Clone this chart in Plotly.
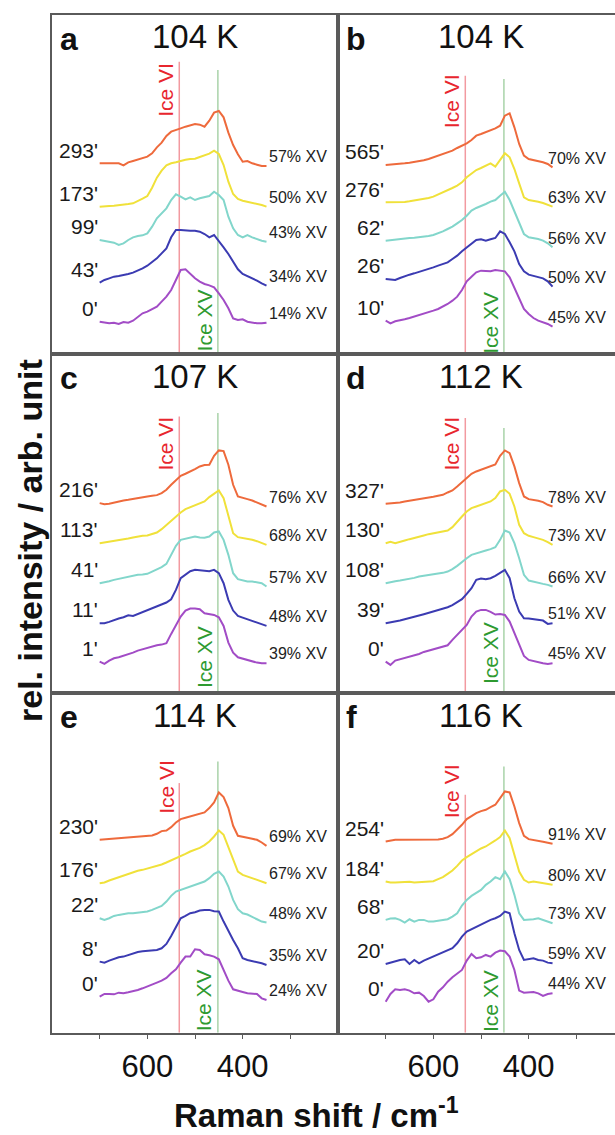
import plotly.graph_objects as go

# ---------------- data ----------------
RAMAN_SHIFT = list(range(700, 340, -10))  # cm-1, 700 ... 350
ICE_VI_SHIFT = 533
ICE_XV_SHIFT = 452
MAJOR_TICKS = [600, 400]
MINOR_TICKS = [700, 500, 300]

PANEL_LETTERS = ["a", "b", "c", "d", "e", "f"]
PANEL_TEMPS = ["104 K", "104 K", "107 K", "112 K", "114 K", "116 K"]

TIMES = [
    ["293'", "173'", "99'", "43'", "0'"],
    ["565'", "276'", "62'", "26'", "10'"],
    ["216'", "113'", "41'", "11'", "1'"],
    ["327'", "130'", "108'", "39'", "0'"],
    ["230'", "176'", "22'", "8'", "0'"],
    ["254'", "184'", "68'", "20'", "0'"],
]
XV_FRACTIONS = [
    ["57% XV", "50% XV", "43% XV", "34% XV", "14% XV"],
    ["70% XV", "63% XV", "56% XV", "50% XV", "45% XV"],
    ["76% XV", "68% XV", "57% XV", "48% XV", "39% XV"],
    ["78% XV", "73% XV", "66% XV", "51% XV", "45% XV"],
    ["69% XV", "67% XV", "48% XV", "35% XV", "24% XV"],
    ["91% XV", "80% XV", "73% XV", "59% XV", "44% XV"],
]

# stacked relative intensities (arb. unit), top spectrum first
SPEC_A = [
    [572,572,571,572,572,566,575,579,583,586,592,602,620,634,654,667,673,677,682,686,690,688,682,700,724,729,710,664,627,599,577,579,572,568,564,564],
    [442,442,444,445,446,448,450,452,458,466,474,499,529,550,566,572,575,580,583,585,586,591,596,601,610,600,567,517,480,465,460,457,454,451,447,442],
    [342,340,337,334,327,332,342,350,354,356,362,382,407,422,437,462,479,472,464,470,462,467,470,474,487,477,462,412,377,357,350,357,350,344,340,337],
    [214,222,227,232,234,236,240,244,250,257,265,277,287,302,317,350,372,372,370,370,370,367,360,350,357,340,320,300,277,254,240,234,226,220,212,205],
    [97,94,92,94,90,96,94,100,112,122,127,134,142,157,172,192,222,252,254,240,227,217,210,206,200,182,162,137,107,102,104,97,94,92,92,94],
]
SPEC_B = [
    [567,568,568,570,572,574,576,578,581,585,590,595,600,605,610,618,624,632,642,655,660,665,672,677,685,715,722,680,630,595,585,582,578,575,570,560],
    [455,455,456,456,456,458,460,463,465,468,472,478,485,492,498,505,515,530,542,552,558,565,572,562,582,602,590,555,512,470,462,460,457,453,448,442],
    [340,342,343,345,347,348,349,350,352,354,357,362,368,375,382,392,402,415,430,438,443,450,457,462,475,487,462,428,390,360,350,348,345,340,332,320],
    [225,224,222,228,234,238,242,246,250,254,260,265,270,275,285,295,308,320,332,342,344,340,344,348,368,360,335,308,270,248,238,235,232,227,218,202],
    [100,92,98,100,104,108,112,116,120,125,130,135,142,150,160,172,192,218,232,245,250,250,248,252,250,248,230,200,165,135,120,108,100,95,90,82],
]
SPEC_C = [
    [570,567,568,572,575,578,580,583,586,588,590,592,594,600,610,625,640,652,658,664,672,680,684,685,712,728,726,685,625,590,585,582,578,572,566,560],
    [450,452,455,458,460,462,464,467,470,472,473,477,482,492,505,518,530,542,552,558,565,570,575,588,598,608,585,530,480,468,466,463,460,456,450,445],
    [330,332,336,340,343,348,350,353,355,356,358,365,372,378,388,415,442,460,463,467,470,467,466,470,482,485,460,415,360,342,338,335,335,333,330,320],
    [210,210,214,220,224,228,234,232,238,244,250,256,262,268,272,282,310,345,355,366,370,369,367,366,370,360,330,280,248,232,227,222,218,212,208,202],
    [95,88,98,105,108,112,117,122,128,132,137,142,144,146,150,178,205,230,248,254,254,252,240,238,235,228,202,152,122,108,104,100,95,92,90,90],
]
SPEC_D = [
    [568,569,570,572,575,577,579,581,583,586,589,592,595,602,608,620,632,645,658,665,670,675,680,686,712,728,720,680,630,590,582,580,577,573,565,560],
    [450,454,450,455,458,462,465,470,473,477,480,483,486,488,498,515,530,545,555,560,565,570,575,585,605,610,598,560,505,480,472,468,465,460,453,445],
    [330,334,336,338,340,343,346,350,352,354,356,358,361,365,372,382,395,405,415,420,424,428,432,438,460,488,482,450,405,355,338,334,330,328,325,320],
    [210,212,215,218,222,225,229,233,237,241,245,249,254,258,264,272,282,298,315,340,344,342,345,352,362,370,345,285,245,225,224,222,220,218,208,210],
    [95,85,98,102,105,110,114,118,124,128,132,136,140,144,160,175,188,205,230,245,250,250,244,236,238,235,215,180,142,112,100,96,94,90,88,90],
]
SPEC_E = [
    [578,579,580,581,582,583,584,585,586,587,588,591,596,604,606,616,630,640,644,648,650,654,660,673,690,720,706,673,620,590,586,584,581,578,570,560],
    [448,450,456,461,466,470,475,480,485,488,492,495,500,504,510,516,523,530,536,543,548,554,562,573,588,606,593,558,518,483,473,468,463,458,451,448],
    [343,338,343,350,353,356,358,358,359,360,363,368,373,380,393,410,423,428,432,438,444,448,453,463,476,483,468,438,398,370,358,354,348,340,333,330],
    [213,210,216,221,226,228,233,238,242,244,246,248,248,253,266,290,318,343,350,358,361,366,368,368,364,363,333,303,278,253,223,218,215,213,208,203],
    [108,116,116,115,120,118,121,124,128,133,138,143,150,156,164,178,190,210,228,228,250,248,235,232,228,220,188,156,130,125,122,118,118,116,103,98],
]
SPEC_F = [
    [573,576,578,578,578,578,578,578,578,578,578,579,581,586,595,608,623,640,650,658,664,668,676,683,703,723,720,678,628,590,580,578,575,572,569,566],
    [453,450,450,451,453,452,450,451,451,453,454,460,466,476,486,500,516,526,535,543,552,558,566,576,586,606,583,533,483,458,450,453,450,448,446,443],
    [338,342,343,338,330,340,333,338,338,333,333,336,338,340,348,358,381,398,410,420,428,443,453,466,460,483,460,413,358,338,338,340,343,338,333,328],
    [206,210,216,218,220,206,218,208,216,222,228,233,240,246,253,268,288,303,310,318,323,330,338,343,350,363,358,298,248,218,220,223,218,216,210,208],
    [93,116,130,128,130,126,118,120,110,93,100,123,136,153,166,178,188,216,236,223,226,233,228,240,246,244,228,188,126,120,120,122,118,110,116,118],
]
SPECTRA = [SPEC_A, SPEC_B, SPEC_C, SPEC_D, SPEC_E, SPEC_F]

# ---------------- style / layout ----------------
W, H = 615, 1135
COLORS = ["#EE6A3C", "#F0E13A", "#82D6CB", "#3B3BB2", "#A24CC6"]
FONT = "Arial, Liberation Sans, sans-serif"
BORDER = "#5a5a5a"

COL_PX = [(52, 338), (338, 615)]
COL_RANGE = [[800, 200], [800, 219]]
ROW_PX = [(15, 354), (354, 693.3), (693.3, 1032.7)]
Y_TOP = 1017

# marker-line tops and label centres per panel (y units)
VI_TOP = [877, 835, 830, 825, 748, 713]
XV_TOP = [852, 825, 840, 795, 813, 798]
VI_LABEL_Y = [792, 758, 748, 748, 736, 723]
XV_LABEL_Y = [102, 95, 110, 122, 98, 96]
PCT_X = [350, 364]

fig = go.Figure()
layout = dict(
    width=W, height=H, margin=dict(l=0, r=0, t=0, b=0),
    paper_bgcolor="white", plot_bgcolor="white", showlegend=False,
    font=dict(family=FONT, color="#111"),
)
annotations = []
shapes = []

for i in range(6):
    row, col = divmod(i, 2)
    n = "" if i == 0 else str(i + 1)
    xa, ya = "x" + n, "y" + n
    x0, x1 = COL_PX[col]
    t0, t1 = ROW_PX[row]
    bottom = row == 2
    xaxis = dict(
        domain=[x0 / W, x1 / W], range=COL_RANGE[col], anchor=ya,
        showline=True, mirror=True, linecolor=BORDER, linewidth=1.5,
        showgrid=False, zeroline=False,
        showticklabels=bottom, ticks="",
    )
    if bottom:
        xaxis.update(
            ticks="outside", ticklen=5, tickwidth=1, tickcolor=BORDER,
            tickvals=MAJOR_TICKS, tickfont=dict(size=31, color="#111", family=FONT),
            minor=dict(tickvals=MINOR_TICKS, ticks="outside", ticklen=5, tickwidth=1,
                       tickcolor=BORDER, showgrid=False),
        )
    layout["xaxis" + n] = xaxis
    layout["yaxis" + n] = dict(
        domain=[1 - t1 / H, 1 - t0 / H], range=[0, Y_TOP], anchor=xa,
        showline=True, mirror=(col == 0), linecolor=BORDER, linewidth=1.5,
        showgrid=False, zeroline=False, showticklabels=False, ticks="",
    )
    # marker lines
    shapes.append(dict(type="line", xref=xa, yref=ya, x0=ICE_VI_SHIFT, x1=ICE_VI_SHIFT,
                       y0=0, y1=VI_TOP[i], line=dict(color="#F29AA0", width=1.5), layer="below"))
    shapes.append(dict(type="line", xref=xa, yref=ya, x0=ICE_XV_SHIFT, x1=ICE_XV_SHIFT,
                       y0=0, y1=XV_TOP[i], line=dict(color="#A9D3A9", width=1.5), layer="below"))
    annotations.append(dict(xref=xa, yref=ya, x=ICE_VI_SHIFT, y=VI_LABEL_Y[i], text="Ice VI",
                            textangle=-90, xanchor="right", yanchor="middle", showarrow=False,
                            font=dict(size=21, color="#E8262E", family=FONT)))
    annotations.append(dict(xref=xa, yref=ya, x=ICE_XV_SHIFT, y=XV_LABEL_Y[i], text="Ice XV",
                            textangle=-90, xanchor="right", yanchor="middle", showarrow=False,
                            font=dict(size=21, color="#2E9A30", family=FONT)))
    # spectra
    for k, spec in enumerate(SPECTRA[i]):
        assert len(spec) == len(RAMAN_SHIFT), (i, k, len(spec))
        fig.add_trace(go.Scatter(x=RAMAN_SHIFT, y=spec, mode="lines", xaxis=xa, yaxis=ya,
                                 line=dict(color=COLORS[k], width=2), hoverinfo="skip"))
        annotations.append(dict(xref=xa, yref=ya, x=RAMAN_SHIFT[0], y=spec[0] + 40,
                                text=TIMES[i][k], xanchor="right", yanchor="middle",
                                showarrow=False, font=dict(size=21, color="#1a1a1a", family=FONT)))
        annotations.append(dict(xref=xa, yref=ya, x=PCT_X[col], y=spec[-1] + 28,
                                text=XV_FRACTIONS[i][k], xanchor="left", yanchor="middle",
                                showarrow=False, font=dict(size=16, color="#222", family=FONT)))
    # panel title and letter
    annotations.append(dict(xref=xa, yref=ya, x=500, y=Y_TOP - 66, text=PANEL_TEMPS[i],
                            xanchor="center", yanchor="middle", showarrow=False,
                            font=dict(size=33, color="#111", family=FONT)))
    annotations.append(dict(xref=xa, yref=ya, x=788, y=Y_TOP - 72, text="<b>%s</b>" % PANEL_LETTERS[i],
                            xanchor="left", yanchor="middle", showarrow=False,
                            font=dict(size=32, color="#111", family=FONT)))

# axis titles
annotations.append(dict(xref="paper", yref="paper", x=316 / W, y=1 - 1113 / H,
                        text="<b>Raman shift / cm<sup>-1</sup></b>", xanchor="center", yanchor="middle",
                        showarrow=False, font=dict(size=33, color="#111", family=FONT)))
annotations.append(dict(xref="paper", yref="paper", x=30 / W, y=1 - 541 / H,
                        text="<b>rel. intensity / arb. unit</b>", textangle=-90,
                        xanchor="center", yanchor="middle",
                        showarrow=False, font=dict(size=34, color="#111", family=FONT)))

layout["annotations"] = annotations
layout["shapes"] = shapes
fig.update_layout(**layout)
fig.write_html("out.html")
